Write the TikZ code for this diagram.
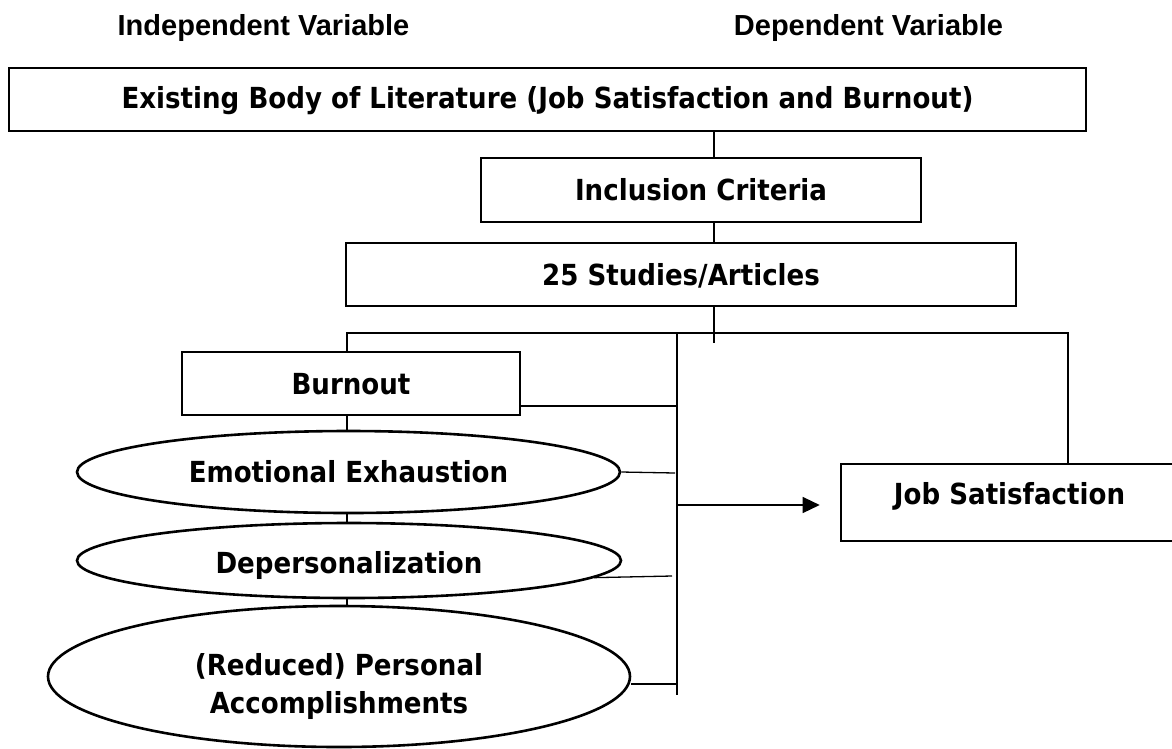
\documentclass[tikz,border=0pt]{standalone}
\usepackage{fontspec}
\usepackage{tikz}
\usetikzlibrary{shapes.geometric,arrows.meta,calc}
\newfontfamily\headfam{Liberation Sans}
\newfontfamily\boxfam[FakeStretch=0.9]{DejaVu Sans}
\tikzset{
  box/.style={draw,line width=2.6pt,inner sep=0pt,
    font=\boxfam\bfseries\fontsize{29}{38}\selectfont,text height=21pt,text depth=0pt},
  oval/.style={box,ellipse},
  head/.style={inner sep=0pt,font=\headfam\bfseries\fontsize{29}{34}\selectfont,
    text height=21pt,text depth=0pt},
  link/.style={line width=1.3pt}
}
\begin{document}
\begin{tikzpicture}[x=1pt,y=-1pt]
  \useasboundingbox (0,0) rectangle (1172,748);
  % column headings
  \node[head] (indep) at (263.5,25) {Independent Variable};
  \node[head] (depvar) at (868.5,25) {Dependent Variable};
  % boxes down the middle
  \node[box,minimum width=1077pt,minimum height=63pt,text depth=4pt] (lit) at (547.5,99.5)
    {Existing Body of Literature (Job Satisfaction and Burnout)};
  \node[box,minimum width=440pt,minimum height=64pt] (incl) at (701,190) {Inclusion Criteria};
  \node[box,minimum width=670pt,minimum height=63pt] (stud) at (681,274.5) {25 Studies/Articles};
  % independent variable side
  \node[box,minimum width=338pt,minimum height=63pt] (burn) at (351,383.5) {Burnout};
  \node[oval,minimum width=543pt,minimum height=82pt] (emo) at (348.5,472) {Emotional Exhaustion};
  \node[oval,minimum width=544pt,minimum height=75pt,text height=26pt] (dep) at (349,560.5) {Depersonalization};
  \node[oval,minimum width=582pt,minimum height=141pt,align=center,text height=,text depth=] (pers) at (339,676.5)
    {\rule{0pt}{43pt}(Reduced) Personal\\Accomplishments};
  % dependent variable side
  \node[box,minimum width=337pt,minimum height=77pt,text depth=17pt] (job) at (1009.5,502.5) {Job Satisfaction};

  \coordinate (spine) at (714,0);
  \coordinate (tee) at (714,343);
  \coordinate (rowL) at (347,333);
  \coordinate (rowR) at (1068,333);
  \coordinate (barT) at (677,333);
  \coordinate (barB) at (677,695);
  \coordinate (b1) at (677,406);
  \coordinate (e1) at (675,473);
  \coordinate (d1) at (672,576);
  \coordinate (p1) at (676,684);
  \coordinate (a1) at (677,505);

  \draw[link] (lit.south -| spine) -- (incl.north -| spine);
  \draw[link] (incl.south -| spine) -- (stud.north -| spine);
  \draw[link] (stud.south -| spine) -- (tee);
  \draw[link] (burn.north -| rowL) -- (rowL) -- (rowR) -- (job.north -| rowR);
  \draw[link] (barT) -- (barB);
  % stubs into the bar
  \draw[link] (burn.east |- b1) -- (b1);
  \draw[link] (emo.east) -- (e1);
  \draw[link] (dep.-4.3) -- (d1);
  \draw[link] (pers.east |- p1) -- (p1);
  \draw[link,-{Triangle[length=17pt,width=16pt]}] (a1) -- ($(a1 -| job.west)+(-20,0)$);
  % chain of burnout facets
  \draw[link] (burn.south -| rowL) -- (emo.north -| rowL);
  \draw[link] (emo.south -| rowL) -- (dep.north -| rowL);
  \draw[link] (dep.south -| rowL) -- (pers.north -| rowL);
\end{tikzpicture}
\end{document}
